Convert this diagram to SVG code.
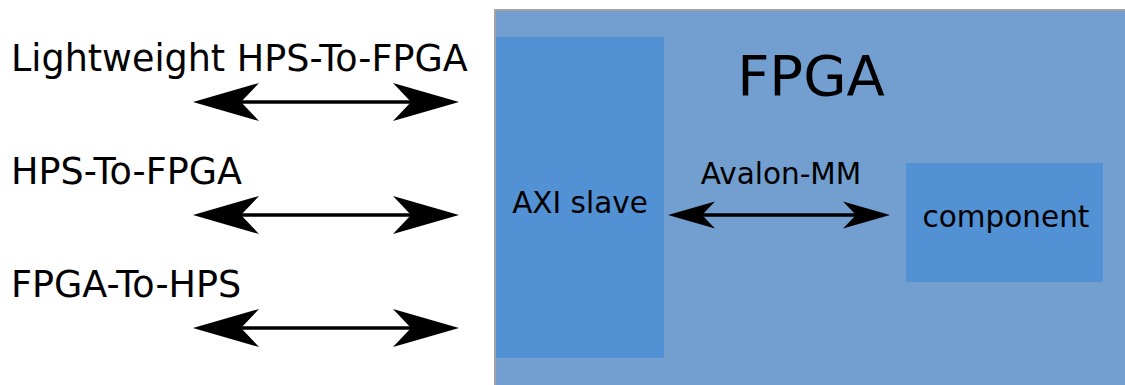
<svg xmlns="http://www.w3.org/2000/svg" width="1125" height="385" viewBox="0 0 1125 385">
  <style>
    .lbl { font-family: "DejaVu Sans", sans-serif; fill: #000; }
    .big { font-size: 36.5px; }
    .mid { font-size: 29.5px; }
    .link { stroke: #000; stroke-width: 3.5; fill: none; }
  </style>
  <defs>
    <marker id="headL" markerUnits="userSpaceOnUse" viewBox="-67 -20 68 40" refX="-48" refY="0" markerWidth="68" markerHeight="40" orient="auto-start-reverse">
      <path d="M0,0 L-66,-19 L-48,0 L-66,19 Z" fill="#000"/>
    </marker>
    <marker id="headS" markerUnits="userSpaceOnUse" viewBox="-48 -15 49 30" refX="-34" refY="0" markerWidth="49" markerHeight="30" orient="auto-start-reverse">
      <path d="M0,0 L-47,-13.5 L-34,0 L-47,13.5 Z" fill="#000"/>
    </marker>
  </defs>

  <!-- FPGA region -->
  <g id="fpga">
    <rect x="495" y="10" width="632" height="377" fill="#729fcf" stroke="#a3a3a3" stroke-width="2"/>
    <text class="lbl" x="811" y="95" font-size="56" text-anchor="middle">FPGA</text>
  </g>

  <g id="axi-slave">
    <rect x="496" y="37" width="168" height="321" fill="#5291d4"/>
    <text class="lbl mid" x="580" y="213" text-anchor="middle">AXI slave</text>
  </g>

  <g id="component">
    <rect x="906" y="163" width="197" height="119" fill="#5291d4"/>
    <text class="lbl mid" x="1006" y="227" text-anchor="middle">component</text>
  </g>

  <!-- bus labels -->
  <g id="lw-bridge">
    <text class="lbl big" x="11" y="71">Lightweight HPS-To-FPGA</text>
  </g>
  <g id="h2f-bridge">
    <text class="lbl big" x="11" y="184">HPS-To-FPGA</text>
  </g>
  <g id="f2h-bridge">
    <text class="lbl big" x="11" y="297">FPGA-To-HPS</text>
  </g>
  <g id="avalon-label">
    <text class="lbl mid" x="781" y="184" text-anchor="middle">Avalon-MM</text>
  </g>

  <!-- connectors -->
  <g id="connectors">
    <line class="link" x1="241" y1="102" x2="411" y2="102" marker-start="url(#headL)" marker-end="url(#headL)"/>
    <line class="link" x1="241" y1="215" x2="411" y2="215" marker-start="url(#headL)" marker-end="url(#headL)"/>
    <line class="link" x1="241" y1="328" x2="411" y2="328" marker-start="url(#headL)" marker-end="url(#headL)"/>
    <line class="link" x1="702" y1="215" x2="856" y2="215" stroke-width="3" marker-start="url(#headS)" marker-end="url(#headS)"/>
  </g>
</svg>
